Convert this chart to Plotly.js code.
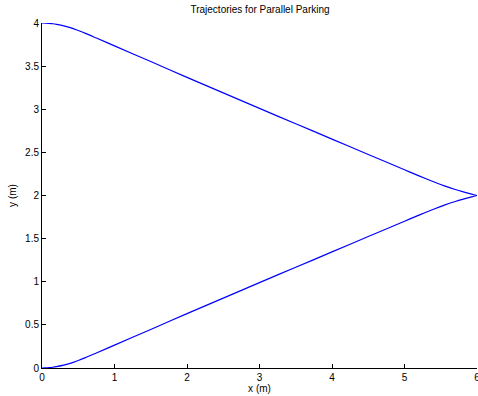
<!DOCTYPE html>
<html>
<head>
<meta charset="utf-8">
<script src="https://cdn.plot.ly/plotly-3.0.1.min.js"></script>
<style>html,body{margin:0;padding:0;background:#fff;}#chart{width:478px;height:396px;}</style>
</head>
<body>
<div id="chart"></div>
<script>
// Trajectory 1 (starting at y = 4)
const xTop = [0, 0.05, 0.1, 0.15, 0.2, 0.3, 0.4, 0.5, 0.6, 0.75, 1, 1.5, 2, 2.5, 3, 3.5, 4, 4.5, 5, 5.2, 5.4, 5.55, 5.7, 5.8, 5.9, 5.96, 6];
const yTop = [4.000, 3.999, 3.996, 3.991, 3.984, 3.967, 3.944, 3.913, 3.880, 3.826, 3.735, 3.553, 3.370, 3.190, 3.010, 2.832, 2.654, 2.476, 2.298, 2.228, 2.160, 2.112, 2.070, 2.045, 2.022, 2.009, 2.000];
// Trajectory 2 (starting at y = 0)
const xBottom = [0, 0.05, 0.1, 0.15, 0.2, 0.3, 0.4, 0.5, 0.6, 0.75, 1, 1.5, 2, 2.5, 3, 3.5, 4, 4.5, 5, 5.2, 5.4, 5.55, 5.7, 5.8, 5.9, 5.96, 6];
const yBottom = [0.000, 0.001, 0.004, 0.009, 0.016, 0.033, 0.056, 0.087, 0.120, 0.174, 0.265, 0.447, 0.630, 0.810, 0.990, 1.168, 1.346, 1.524, 1.702, 1.772, 1.840, 1.888, 1.930, 1.955, 1.978, 1.991, 2.000];

const xTicks = [0, 1, 2, 3, 4, 5, 6];
const yTicks = [0, 0.5, 1, 1.5, 2, 2.5, 3, 3.5, 4];
const yTickText = ['0', '0.5', '1', '1.5', '2', '2.5', '3', '3.5', '4'];

const fontFam = 'Liberation Sans, Arial, Helvetica, sans-serif';
const lineStyle = {color: '#0000ff', width: 1.2, shape: 'spline', smoothing: 0.8};

const data = [
  {x: xTop, y: yTop, type: 'scatter', mode: 'lines', line: lineStyle, hoverinfo: 'none', cliponaxis: false},
  {x: xBottom, y: yBottom, type: 'scatter', mode: 'lines', line: lineStyle, hoverinfo: 'none', cliponaxis: false}
];

const axisCommon = {
  showgrid: false, zeroline: false, showline: true, linecolor: '#000', linewidth: 1,
  ticks: 'inside', ticklen: 4, tickwidth: 1, tickcolor: '#000', mirror: false,
  ticklabeloverflow: 'allow',
  tickfont: {family: fontFam, size: 10, color: '#000'}
};

const layout = {
  width: 478, height: 396,
  margin: {l: 42, r: 1, t: 23, b: 28, pad: 0},
  paper_bgcolor: '#fff', plot_bgcolor: '#fff',
  showlegend: false,
  font: {family: fontFam, size: 10, color: '#000'},
  title: {text: 'Trajectories for Parallel Parking', font: {family: fontFam, size: 10, color: '#000'},
          x: 0.544, xanchor: 'center', y: 0.975, yanchor: 'middle', yref: 'container'},
  xaxis: Object.assign({}, axisCommon, {
    range: [0, 6], tickvals: xTicks, ticktext: xTicks.map(String),
    title: {text: 'x (m)', font: {family: fontFam, size: 10, color: '#000'}, standoff: 1}
  }),
  yaxis: Object.assign({}, axisCommon, {
    range: [0, 4], tickvals: yTicks, ticktext: yTickText,
    title: {text: 'y (m)', font: {family: fontFam, size: 10, color: '#000'}, standoff: 6}
  })
};

Plotly.newPlot('chart', data, layout, {staticPlot: true, displayModeBar: false});
</script>
</body>
</html>
